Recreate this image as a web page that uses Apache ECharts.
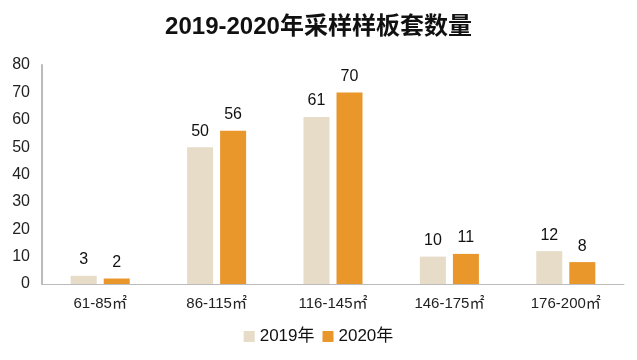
<!DOCTYPE html>
<html><head><meta charset="utf-8">
<script src="https://cdn.jsdelivr.net/npm/echarts@6/dist/echarts.min.js"></script>
<style>html,body{margin:0;padding:0;background:#fff}#c{width:637px;height:360px}</style>
</head><body><div id="c"></div>
<script>
const categories = ['61-85㎡','86-115㎡','116-145㎡','146-175㎡','176-200㎡'];
const values2019 = [3, 50, 61, 10, 12];
const values2020 = [2, 56, 70, 11, 8];
const yTicks = [0, 10, 20, 30, 40, 50, 60, 70, 80];
const FONT = '"Liberation Sans", "Noto Sans CJK SC", sans-serif';
const chart = echarts.init(document.getElementById('c'));
chart.setOption({
  backgroundColor: '#fff',
  animation: false,
  title: {
    text: '2019-2020年采样样板套数量', left: 'center', top: 10,
    textStyle: { fontFamily: FONT, fontSize: 24, fontWeight: 'bold', color: '#111' }
  },
  legend: {
    bottom: 10, left: 'center', itemWidth: 11, itemHeight: 11, itemGap: 8,
    icon: 'rect',
    textStyle: { fontFamily: FONT, fontSize: 17, color: '#111' },
    data: ['2019年', '2020年']
  },
  grid: { left: 42, right: 13, top: 65, bottom: 76 },
  xAxis: {
    type: 'category', data: categories,
    axisLine: { lineStyle: { color: '#bbb', width: 1 } },
    axisTick: { show: false },
    axisLabel: { fontFamily: FONT, fontSize: 15, color: '#222', margin: 12 }
  },
  yAxis: {
    type: 'value', min: yTicks[0], max: yTicks[yTicks.length - 1], interval: 10,
    axisLine: { show: true, lineStyle: { color: '#bbb', width: 2 } },
    axisTick: { show: false },
    splitLine: { show: false },
    axisLabel: { fontFamily: FONT, fontSize: 16, color: '#222', margin: 12 }
  },
  series: [
    { name: '2019年', type: 'bar', data: values2019, barWidth: 26, barGap: '27%',
      itemStyle: { color: '#E6DCC8' },
      label: { show: true, position: 'top', distance: 8, fontFamily: FONT, fontSize: 16, color: '#111' } },
    { name: '2020年', type: 'bar', data: values2020, barWidth: 26,
      itemStyle: { color: '#E9962B' },
      label: { show: true, position: 'top', distance: 8, fontFamily: FONT, fontSize: 16, color: '#111' } }
  ]
});
</script></body></html>
